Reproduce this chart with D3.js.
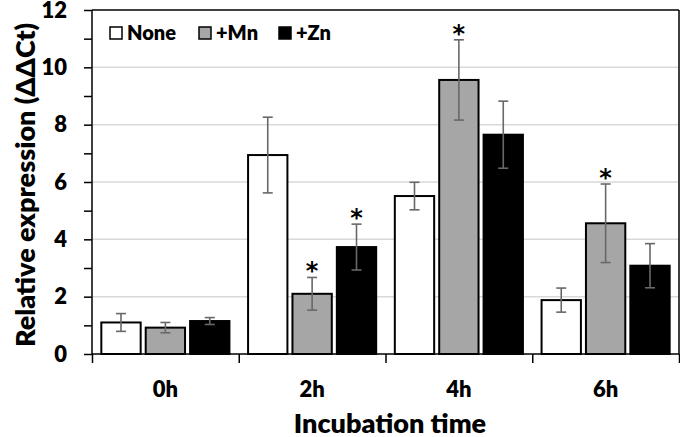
<!DOCTYPE html>
<html><head><meta charset="utf-8">
<script src="https://cdn.jsdelivr.net/npm/d3@7"></script>
<style>body{margin:0;background:#fff}svg{display:block}text{font-family:Lato,"Open Sans",sans-serif;font-weight:800}</style>
</head><body>
<script>
const categories = ["0h","2h","4h","6h"];
const seriesNames = ["None","+Mn","+Zn"];
const valuesNone = [1.10, 6.94, 5.51, 1.88];
const valuesMn   = [0.92, 2.10, 9.56, 4.56];
const valuesZn   = [1.15, 3.73, 7.65, 3.08];
const errNone = [0.31, 1.32, 0.48, 0.42];
const errMn   = [0.18, 0.57, 1.40, 1.37];
const errZn   = [0.12, 0.80, 1.17, 0.77];
const significant = [[false,false,false],[false,true,true],[false,true,false],[false,true,false]];
const yTicks = [0,2,4,6,8,10,12];
const fills = ["#ffffff","#a6a6a6","#000000"];

const W=680,H=437;
const svg=d3.select("body").append("svg").attr("width",W).attr("height",H);
const L=92,R=679,T=10,B=354;
const x=d3.scaleBand().domain(categories).range([L,R]).padding(0);
const xs=d3.scaleBand().domain(seriesNames).range([0,x.bandwidth()]).paddingInner(5/44).paddingOuter(0.21);
const y=d3.scaleLinear().domain([0,12]).range([B,T]);

const vals=[valuesNone,valuesMn,valuesZn], errs=[errNone,errMn,errZn];
const data=[];
categories.forEach((c,i)=>seriesNames.forEach((s,j)=>data.push({c,s,j,v:vals[j][i],e:errs[j][i],sig:significant[i][j]})));

// gridlines
svg.append("g").selectAll("line").data([2,4,6,8,10]).join("line")
 .attr("x1",L).attr("x2",R).attr("y1",d=>y(d)).attr("y2",d=>y(d))
 .attr("stroke","#d9d9d9").attr("stroke-width",1.5);

// bars
svg.append("g").selectAll("rect").data(data).join("rect")
 .attr("x",d=>x(d.c)+xs(d.s)).attr("width",xs.bandwidth())
 .attr("y",d=>y(d.v)).attr("height",d=>B-y(d.v))
 .attr("fill",d=>fills[d.j]).attr("stroke","#000").attr("stroke-width",2);

// error bars
const eg=svg.append("g").attr("stroke","#686868").attr("stroke-width",1.6);
data.forEach(d=>{
  const cx=x(d.c)+xs(d.s)+xs.bandwidth()/2;
  eg.append("line").attr("x1",cx).attr("x2",cx).attr("y1",y(d.v+d.e)).attr("y2",y(d.v-d.e));
  [d.v+d.e,d.v-d.e].forEach(v=>eg.append("line").attr("x1",cx-5).attr("x2",cx+5).attr("y1",y(v)).attr("y2",y(v)));
});
// asterisks
svg.append("g").selectAll("text").data(data.filter(d=>d.sig)).join("text")
 .attr("x",d=>x(d.c)+xs(d.s)+xs.bandwidth()/2).attr("y",d=>y(d.v+d.e)+2)
 .attr("text-anchor","middle").attr("font-size",24)
 .style("font-family","'DejaVu Sans'").style("font-weight","bold").text("*");

// frame
svg.append("line").attr("x1",L).attr("x2",R).attr("y1",T).attr("y2",T).attr("stroke","#000").attr("stroke-width",1.5);
svg.append("line").attr("x1",R).attr("x2",R).attr("y1",T).attr("y2",B).attr("stroke","#000").attr("stroke-width",1.5);

// y axis
const ya=svg.append("g").attr("transform",`translate(${L},0)`)
 .call(d3.axisLeft(y).tickValues(d3.range(0,13,1)).tickSize(8).tickFormat(d=>yTicks.includes(d)?d:""));
ya.select(".domain").attr("stroke","#000").attr("stroke-width",1.5).attr("d",`M-0,${T}V${B}`);
ya.selectAll(".tick line").attr("stroke","#000").attr("stroke-width",1.5);
ya.selectAll(".tick text").attr("font-size",22).attr("font-family",null).attr("fill","#000").attr("x",-25);

// x axis
const xa=svg.append("g").attr("transform",`translate(0,${B})`)
 .call(d3.axisBottom(d3.scaleLinear().domain([0,4]).range([L,R])).tickValues([0,1,2,3,4]).tickSize(9).tickFormat(""));
xa.select(".domain").attr("stroke","#000").attr("stroke-width",1.5).attr("d",`M${L},0H${R}`);
xa.selectAll(".tick line").attr("stroke","#000").attr("stroke-width",1.5);
svg.append("g").selectAll("text").data(categories).join("text")
 .attr("x",d=>x(d)+x.bandwidth()/2).attr("y",397).attr("text-anchor","middle").attr("font-size",22).text(d=>d);

// titles
svg.append("text").attr("x",390).attr("y",433).attr("text-anchor","middle").attr("font-size",27).text("Incubation time");
svg.append("text").attr("transform","translate(35,185) rotate(-90)").attr("text-anchor","middle").attr("font-size",27).text("Relative expression (ΔΔCt)");

// legend
const lg=svg.append("g");
const lx=[109,198,278];
seriesNames.forEach((s,j)=>{
  lg.append("rect").attr("x",lx[j]+1).attr("y",27).attr("width",12).attr("height",12).attr("fill",fills[j]).attr("stroke","#000").attr("stroke-width",1.5);
  lg.append("text").attr("x",lx[j]+18).attr("y",39.5).attr("font-size",20).text(s);
});
</script>
</body></html>
